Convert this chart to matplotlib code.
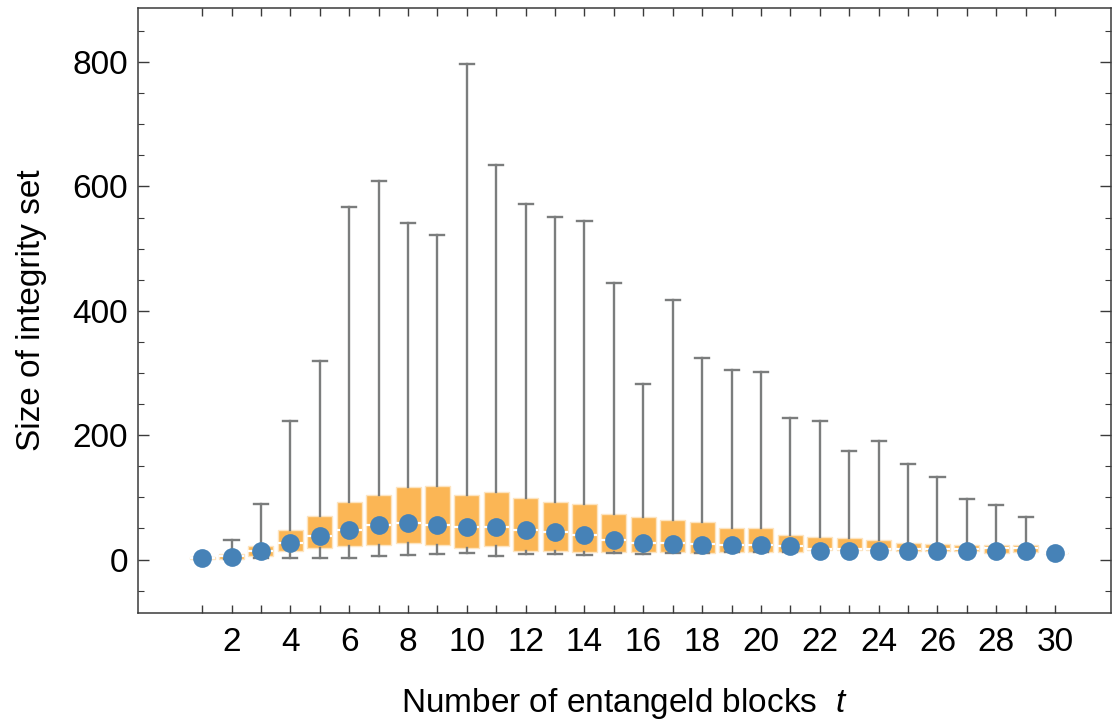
import matplotlib
matplotlib.use("Agg")
import matplotlib.pyplot as plt
from matplotlib.ticker import MultipleLocator, FixedLocator

plt.rcParams['font.family'] = ['Liberation Sans', 'DejaVu Sans']
plt.rcParams['mathtext.fontset'] = 'custom'
plt.rcParams['mathtext.rm'] = 'Liberation Sans'
plt.rcParams['mathtext.it'] = 'Liberation Sans:italic'

# Number of entangled blocks
blocks = list(range(1, 31))

# Box-whisker statistics per block count
whisker_low = [1, 1, 3, 2, 2, 2, 6, 7, 9, 10, 6, 9, 9, 8, 10, 9, 11, 11, 12, 12,
               12, 16, 16, 16, 14, 14, 14, 11, 12, 11]
quartile1 = [0.5, 1, 6, 13, 19, 21, 24, 26, 23, 18, 22, 13, 13, 12, 12, 12, 12, 11, 12, 12,
             12, 16, 16, 16, 14, 14, 14, 11, 12, 11]
medians = [2, 5, 13, 27, 38, 47, 55, 58, 56, 52, 53, 47, 44, 40, 32, 27, 26, 25, 24, 24,
           21, 17, 17, 17, 17, 17, 17, 18, 18, 11]
quartile3 = [4.5, 9, 22, 48, 70, 92, 104, 117, 119, 104, 109, 99, 93, 90, 74, 68, 63, 60, 51, 50,
             40, 37, 35, 31, 26, 25, 24, 23, 23, 11]
whisker_high = [4.5, 31, 89, 222, 320, 567, 608, 541, 522, 797, 634, 572, 551, 545, 445, 283,
                417, 324, 305, 301, 227, 223, 174, 191, 153, 132, 98, 88, 69, 11]

# Typical size marked by the dots
typical = [2.7, 4, 13, 27, 38, 47, 55, 58, 56, 52, 53, 47, 44, 40, 32, 27, 25, 24, 23, 23,
           22, 14, 14, 14, 13, 13, 13, 14, 13, 11]

box_color = '#fbb655'
dot_color = '#4682b7'
whisker_color = '#7b7d7d'
frame_color = '#3a3a3a'

fig = plt.figure(figsize=(11.12, 7.24), dpi=100)
ax = fig.add_axes([138 / 1112, 111 / 724, 973 / 1112, 605 / 724])

stats = []
for lo, q1, med, q3, hi in zip(whisker_low, quartile1, medians, quartile3, whisker_high):
    stats.append(dict(whislo=lo, q1=q1, med=med, q3=q3, whishi=hi, fliers=[]))

ax.bxp(stats, positions=blocks, widths=0.85, capwidths=0.48, patch_artist=True,
       showfliers=False, manage_ticks=False,
       boxprops=dict(facecolor=box_color, edgecolor='#fde4c0', linewidth=1.0),
       medianprops=dict(color='white', linewidth=1.6),
       whiskerprops=dict(color=whisker_color, linewidth=1.7),
       capprops=dict(color=whisker_color, linewidth=1.7),
       zorder=2)

ax.plot(blocks, typical, 'o', color=dot_color, markersize=13.5, markeredgewidth=0, zorder=4)

ax.set_xlim(-1.18, 31.9)
ax.set_ylim(-86, 887)

# Frame ticks on all four sides, pointing inward
ax.xaxis.set_major_locator(FixedLocator(blocks))
ax.set_xticklabels([str(b) if b % 2 == 0 else '' for b in blocks])
ax.yaxis.set_major_locator(MultipleLocator(200))
ax.yaxis.set_minor_locator(MultipleLocator(50))
ax.tick_params(axis='x', which='major', direction='in', length=6, width=1.0,
               color=frame_color, top=True, labelsize=24, pad=10)
ax.tick_params(axis='y', which='major', direction='in', length=8, width=1.0,
               color=frame_color, right=True, labelsize=24, pad=7)
ax.tick_params(axis='y', which='minor', direction='in', length=4, width=0.8,
               color=frame_color, right=True)

for spine in ax.spines.values():
    spine.set_color(frame_color)
    spine.set_linewidth(1.1)

ax.set_xlabel(r'Number of entangeld blocks  $t$', fontsize=24)
ax.xaxis.set_label_coords(0.5, -0.121)
ax.set_ylabel('Size of integrity set', fontsize=24)
ax.yaxis.set_label_coords(-0.0935, 0.5)

fig.savefig('out.png', dpi=100)
